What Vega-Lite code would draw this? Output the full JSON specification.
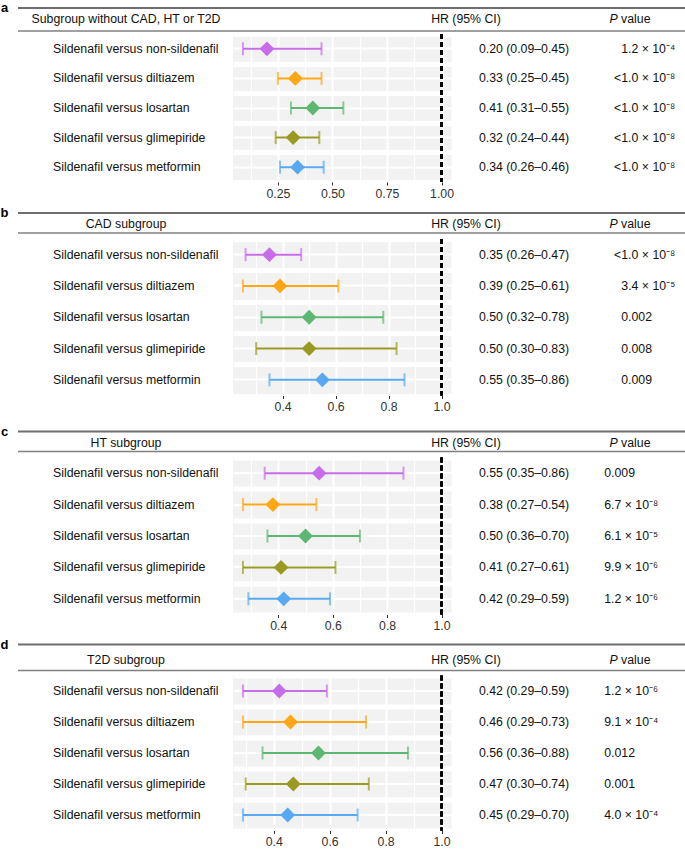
{
  "$schema": "https://vega.github.io/schema/vega-lite/v6.json",
  "padding": {"top": 2, "left": 0, "right": 0, "bottom": 0},
  "spacing": 12.5,
  "datasets": {
    "heads": [
      {"panel": "a", "subgroup": "Subgroup without CAD, HT or T2D"},
      {"panel": "b", "subgroup": "CAD subgroup"},
      {"panel": "c", "subgroup": "HT subgroup"},
      {"panel": "d", "subgroup": "T2D subgroup"}
    ],
    "rows": [
      {"panel": "a", "label": "Sildenafil versus non-sildenafil", "hr": 0.20, "lo": 0.09, "hi": 0.45, "ci": "0.20 (0.09–0.45)", "p": "1.2 × 10⁻⁴"},
      {"panel": "a", "label": "Sildenafil versus diltiazem", "hr": 0.33, "lo": 0.25, "hi": 0.45, "ci": "0.33 (0.25–0.45)", "p": "<1.0 × 10⁻⁸"},
      {"panel": "a", "label": "Sildenafil versus losartan", "hr": 0.41, "lo": 0.31, "hi": 0.55, "ci": "0.41 (0.31–0.55)", "p": "<1.0 × 10⁻⁸"},
      {"panel": "a", "label": "Sildenafil versus glimepiride", "hr": 0.32, "lo": 0.24, "hi": 0.44, "ci": "0.32 (0.24–0.44)", "p": "<1.0 × 10⁻⁸"},
      {"panel": "a", "label": "Sildenafil versus metformin", "hr": 0.34, "lo": 0.26, "hi": 0.46, "ci": "0.34 (0.26–0.46)", "p": "<1.0 × 10⁻⁸"},
      {"panel": "b", "label": "Sildenafil versus non-sildenafil", "hr": 0.35, "lo": 0.26, "hi": 0.47, "ci": "0.35 (0.26–0.47)", "p": "<1.0 × 10⁻⁸"},
      {"panel": "b", "label": "Sildenafil versus diltiazem", "hr": 0.39, "lo": 0.25, "hi": 0.61, "ci": "0.39 (0.25–0.61)", "p": "3.4 × 10⁻⁵"},
      {"panel": "b", "label": "Sildenafil versus losartan", "hr": 0.50, "lo": 0.32, "hi": 0.78, "ci": "0.50 (0.32–0.78)", "p": "0.002"},
      {"panel": "b", "label": "Sildenafil versus glimepiride", "hr": 0.50, "lo": 0.30, "hi": 0.83, "ci": "0.50 (0.30–0.83)", "p": "0.008"},
      {"panel": "b", "label": "Sildenafil versus metformin", "hr": 0.55, "lo": 0.35, "hi": 0.86, "ci": "0.55 (0.35–0.86)", "p": "0.009"},
      {"panel": "c", "label": "Sildenafil versus non-sildenafil", "hr": 0.55, "lo": 0.35, "hi": 0.86, "ci": "0.55 (0.35–0.86)", "p": "0.009"},
      {"panel": "c", "label": "Sildenafil versus diltiazem", "hr": 0.38, "lo": 0.27, "hi": 0.54, "ci": "0.38 (0.27–0.54)", "p": "6.7 × 10⁻⁸"},
      {"panel": "c", "label": "Sildenafil versus losartan", "hr": 0.50, "lo": 0.36, "hi": 0.70, "ci": "0.50 (0.36–0.70)", "p": "6.1 × 10⁻⁵"},
      {"panel": "c", "label": "Sildenafil versus glimepiride", "hr": 0.41, "lo": 0.27, "hi": 0.61, "ci": "0.41 (0.27–0.61)", "p": "9.9 × 10⁻⁶"},
      {"panel": "c", "label": "Sildenafil versus metformin", "hr": 0.42, "lo": 0.29, "hi": 0.59, "ci": "0.42 (0.29–0.59)", "p": "1.2 × 10⁻⁶"},
      {"panel": "d", "label": "Sildenafil versus non-sildenafil", "hr": 0.42, "lo": 0.29, "hi": 0.59, "ci": "0.42 (0.29–0.59)", "p": "1.2 × 10⁻⁶"},
      {"panel": "d", "label": "Sildenafil versus diltiazem", "hr": 0.46, "lo": 0.29, "hi": 0.73, "ci": "0.46 (0.29–0.73)", "p": "9.1 × 10⁻⁴"},
      {"panel": "d", "label": "Sildenafil versus losartan", "hr": 0.56, "lo": 0.36, "hi": 0.88, "ci": "0.56 (0.36–0.88)", "p": "0.012"},
      {"panel": "d", "label": "Sildenafil versus glimepiride", "hr": 0.47, "lo": 0.30, "hi": 0.74, "ci": "0.47 (0.30–0.74)", "p": "0.001"},
      {"panel": "d", "label": "Sildenafil versus metformin", "hr": 0.45, "lo": 0.29, "hi": 0.70, "ci": "0.45 (0.29–0.70)", "p": "4.0 × 10⁻⁴"}
    ]
  },
  "vconcat": [
    {
      "spacing": 7,
      "vconcat": [
        {
          "spacing": 0,
          "vconcat": [
            {
              "data": {"name": "heads"},
              "transform": [{"filter": "datum.panel === 'a'"}],
              "spacing": 8,
              "hconcat": [
                {"width": 7, "height": 23, "mark": {"type": "text", "fontSize": 13, "fontWeight": "bold", "baseline": "middle", "color": "#000000"},
                 "encoding": {"y": {"datum": 1, "type": "quantitative", "scale": {"domain": [0, 1]}, "axis": null}, "text": {"field": "panel"}}},
                {"spacing": 0, "bounds": "flush", "hconcat": [
                  {"width": 216, "height": 23, "layer": [
                    {"mark": {"type": "rule", "color": "#6E6E6E", "strokeWidth": 2}, "encoding": {"y": {"datum": 1, "type": "quantitative", "scale": {"domain": [0, 1]}, "axis": null}}},
                    {"mark": {"type": "rule", "color": "#808080", "strokeWidth": 1.5}, "encoding": {"y": {"datum": 0, "type": "quantitative", "axis": null}}},
                    {"mark": {"type": "text", "baseline": "middle"}, "encoding": {"y": {"datum": 0.52, "type": "quantitative", "axis": null}, "text": {"field": "subgroup"}}}
                  ]},
                  {"width": 124, "height": 23, "layer": [
                    {"mark": {"type": "rule", "color": "#6E6E6E", "strokeWidth": 2}, "encoding": {"y": {"datum": 1, "type": "quantitative", "scale": {"domain": [0, 1]}, "axis": null}}},
                    {"mark": {"type": "rule", "color": "#808080", "strokeWidth": 1.5}, "encoding": {"y": {"datum": 0, "type": "quantitative", "axis": null}}}
                  ]},
                  {"width": 220, "height": 23, "layer": [
                    {"mark": {"type": "rule", "color": "#6E6E6E", "strokeWidth": 2}, "encoding": {"y": {"datum": 1, "type": "quantitative", "scale": {"domain": [0, 1]}, "axis": null}}},
                    {"mark": {"type": "rule", "color": "#808080", "strokeWidth": 1.5}, "encoding": {"y": {"datum": 0, "type": "quantitative", "axis": null}}},
                    {"mark": {"type": "text", "baseline": "middle", "dx": -2}, "encoding": {"y": {"datum": 0.52, "type": "quantitative", "axis": null}, "text": {"value": "HR (95% CI)"}}}
                  ]},
                  {"width": 110, "height": 23, "layer": [
                    {"mark": {"type": "rule", "color": "#6E6E6E", "strokeWidth": 2}, "encoding": {"y": {"datum": 1, "type": "quantitative", "scale": {"domain": [0, 1]}, "axis": null}}},
                    {"mark": {"type": "rule", "color": "#808080", "strokeWidth": 1.5}, "encoding": {"y": {"datum": 0, "type": "quantitative", "axis": null}}},
                    {"mark": {"type": "text", "baseline": "middle", "align": "right", "dx": -15.3, "fontStyle": "italic"}, "encoding": {"y": {"datum": 0.52, "type": "quantitative", "axis": null}, "text": {"value": "P"}}},
                    {"mark": {"type": "text", "baseline": "middle", "align": "left", "dx": -11.9}, "encoding": {"y": {"datum": 0.52, "type": "quantitative", "axis": null}, "text": {"value": "value"}}}
                  ]}
                ]}
              ]
            },
            {
              "data": {"name": "rows"},
              "transform": [{"filter": "datum.panel === 'a'"}],
              "spacing": 0,
              "bounds": "flush",
              "hconcat": [
                {"width": 232, "height": 148, "mark": {"type": "text", "align": "left", "dx": -64, "baseline": "middle"},
                 "encoding": {"y": {"field": "label", "type": "nominal", "sort": null, "scale": {"type": "band", "paddingInner": 0, "paddingOuter": 0}, "axis": null}, "text": {"field": "label"}}},
                {
                  "width": 218.5, "height": 148,
                  "view": {"fill": "#F2F2F2"},
                  "resolve": {"axis": {"x": "independent", "y": "independent"}},
                  "layer": [
                    {"mark": {"type": "rule", "strokeWidth": 2},
                     "encoding": {
                       "x": {"field": "lo", "type": "quantitative", "scale": {"domain": [0.0445, 1.0455], "nice": false, "zero": false},
                             "axis": {"orient": "bottom", "values": [0.25, 0.5, 0.75, 1], "format": ".2f", "title": null, "domain": false, "grid": true, "gridColor": "#FFFFFF", "gridWidth": 2, "tickSize": 3, "tickColor": "#333333", "labelPadding": 2}},
                       "x2": {"field": "hi"},
                       "y": {"field": "label", "type": "nominal", "sort": null, "scale": {"type": "band", "paddingInner": 0, "paddingOuter": 0},
                             "axis": {"orient": "left", "tickBand": "extent", "title": null, "domain": false, "ticks": false, "labels": false, "grid": true, "gridColor": "#FFFFFF", "gridWidth": 5}},
                       "color": {"field": "label", "type": "nominal", "scale": {"domain": ["Sildenafil versus non-sildenafil", "Sildenafil versus diltiazem", "Sildenafil versus losartan", "Sildenafil versus glimepiride", "Sildenafil versus metformin"], "range": ["#C86DEA", "#FFA614", "#5DB772", "#9A9A22", "#58A9F2"]}, "legend": null}
                     }},
                    {"mark": {"type": "tick", "orient": "vertical", "size": 13, "thickness": 2},
                     "encoding": {"x": {"field": "lo", "type": "quantitative", "axis": null}, "y": {"field": "label", "type": "nominal", "sort": null, "axis": null},
                       "color": {"field": "label", "type": "nominal", "legend": null}}},
                    {"mark": {"type": "tick", "orient": "vertical", "size": 13, "thickness": 2},
                     "encoding": {"x": {"field": "hi", "type": "quantitative", "axis": null}, "y": {"field": "label", "type": "nominal", "sort": null, "axis": null},
                       "color": {"field": "label", "type": "nominal", "legend": null}}},
                    {"mark": {"type": "rule", "color": "#000000", "strokeWidth": 2.2, "strokeDash": [5, 3]},
                     "encoding": {"x": {"datum": 1, "type": "quantitative", "axis": null}}},
                    {"mark": {"type": "point", "shape": "diamond", "filled": true, "size": 220, "opacity": 1},
                     "encoding": {
                       "x": {"field": "hr", "type": "quantitative", "axis": {"orient": "bottom", "values": [0.125, 0.375, 0.625, 0.875], "title": null, "domain": false, "ticks": false, "labels": false, "grid": true, "gridColor": "#FFFFFF", "gridWidth": 1.2}},
                       "y": {"field": "label", "type": "nominal", "sort": null, "axis": {"orient": "left", "title": null, "domain": false, "ticks": false, "labels": false, "grid": true, "gridColor": "#FFFFFF", "gridWidth": 2}},
                       "color": {"field": "label", "type": "nominal", "legend": null}
                     }}
                  ]
                },
                {"width": 144, "height": 148, "mark": {"type": "text", "baseline": "middle"},
                 "encoding": {"y": {"field": "label", "type": "nominal", "sort": null, "scale": {"type": "band", "paddingInner": 0, "paddingOuter": 0}, "axis": null}, "text": {"field": "ci"}}},
                {"width": 90.5, "height": 148, "mark": {"type": "text", "baseline": "middle", "align": "right", "dx": 34},
                 "encoding": {"y": {"field": "label", "type": "nominal", "sort": null, "scale": {"type": "band", "paddingInner": 0, "paddingOuter": 0}, "axis": null}, "text": {"field": "p"}}}
              ]
            }
          ]
        },
        {
          "spacing": 3,
          "vconcat": [
            {
              "data": {"name": "heads"},
              "transform": [{"filter": "datum.panel === 'b'"}],
              "spacing": 8,
              "hconcat": [
                {"width": 7, "height": 20, "mark": {"type": "text", "fontSize": 13, "fontWeight": "bold", "baseline": "middle", "color": "#000000"},
                 "encoding": {"y": {"datum": 1, "type": "quantitative", "scale": {"domain": [0, 1]}, "axis": null}, "text": {"field": "panel"}}},
                {"spacing": 0, "bounds": "flush", "hconcat": [
                  {"width": 216, "height": 20, "layer": [
                    {"mark": {"type": "rule", "color": "#6E6E6E", "strokeWidth": 2}, "encoding": {"y": {"datum": 1, "type": "quantitative", "scale": {"domain": [0, 1]}, "axis": null}}},
                    {"mark": {"type": "rule", "color": "#808080", "strokeWidth": 1.5}, "encoding": {"y": {"datum": 0, "type": "quantitative", "axis": null}}},
                    {"mark": {"type": "text", "baseline": "middle"}, "encoding": {"y": {"datum": 0.45, "type": "quantitative", "axis": null}, "text": {"field": "subgroup"}}}
                  ]},
                  {"width": 124, "height": 20, "layer": [
                    {"mark": {"type": "rule", "color": "#6E6E6E", "strokeWidth": 2}, "encoding": {"y": {"datum": 1, "type": "quantitative", "scale": {"domain": [0, 1]}, "axis": null}}},
                    {"mark": {"type": "rule", "color": "#808080", "strokeWidth": 1.5}, "encoding": {"y": {"datum": 0, "type": "quantitative", "axis": null}}}
                  ]},
                  {"width": 220, "height": 20, "layer": [
                    {"mark": {"type": "rule", "color": "#6E6E6E", "strokeWidth": 2}, "encoding": {"y": {"datum": 1, "type": "quantitative", "scale": {"domain": [0, 1]}, "axis": null}}},
                    {"mark": {"type": "rule", "color": "#808080", "strokeWidth": 1.5}, "encoding": {"y": {"datum": 0, "type": "quantitative", "axis": null}}},
                    {"mark": {"type": "text", "baseline": "middle", "dx": -2}, "encoding": {"y": {"datum": 0.45, "type": "quantitative", "axis": null}, "text": {"value": "HR (95% CI)"}}}
                  ]},
                  {"width": 110, "height": 20, "layer": [
                    {"mark": {"type": "rule", "color": "#6E6E6E", "strokeWidth": 2}, "encoding": {"y": {"datum": 1, "type": "quantitative", "scale": {"domain": [0, 1]}, "axis": null}}},
                    {"mark": {"type": "rule", "color": "#808080", "strokeWidth": 1.5}, "encoding": {"y": {"datum": 0, "type": "quantitative", "axis": null}}},
                    {"mark": {"type": "text", "baseline": "middle", "align": "right", "dx": -15.3, "fontStyle": "italic"}, "encoding": {"y": {"datum": 0.45, "type": "quantitative", "axis": null}, "text": {"value": "P"}}},
                    {"mark": {"type": "text", "baseline": "middle", "align": "left", "dx": -11.9}, "encoding": {"y": {"datum": 0.45, "type": "quantitative", "axis": null}, "text": {"value": "value"}}}
                  ]}
                ]}
              ]
            },
            {
              "data": {"name": "rows"},
              "transform": [{"filter": "datum.panel === 'b'"}],
              "spacing": 0,
              "bounds": "flush",
              "hconcat": [
                {"width": 232, "height": 156.5, "mark": {"type": "text", "align": "left", "dx": -64, "baseline": "middle"},
                 "encoding": {"y": {"field": "label", "type": "nominal", "sort": null, "scale": {"type": "band", "paddingInner": 0, "paddingOuter": 0}, "axis": null}, "text": {"field": "label"}}},
                {
                  "width": 218.5, "height": 156.5,
                  "view": {"fill": "#F2F2F2"},
                  "resolve": {"axis": {"x": "independent", "y": "independent"}},
                  "layer": [
                    {"mark": {"type": "rule", "strokeWidth": 2},
                     "encoding": {
                       "x": {"field": "lo", "type": "quantitative", "scale": {"domain": [0.2125, 1.0375], "nice": false, "zero": false},
                             "axis": {"orient": "bottom", "values": [0.4, 0.6, 0.8, 1], "format": ".1f", "title": null, "domain": false, "grid": true, "gridColor": "#FFFFFF", "gridWidth": 2, "tickSize": 3, "tickColor": "#333333", "labelPadding": 2}},
                       "x2": {"field": "hi"},
                       "y": {"field": "label", "type": "nominal", "sort": null, "scale": {"type": "band", "paddingInner": 0, "paddingOuter": 0},
                             "axis": {"orient": "left", "tickBand": "extent", "title": null, "domain": false, "ticks": false, "labels": false, "grid": true, "gridColor": "#FFFFFF", "gridWidth": 5}},
                       "color": {"field": "label", "type": "nominal", "scale": {"domain": ["Sildenafil versus non-sildenafil", "Sildenafil versus diltiazem", "Sildenafil versus losartan", "Sildenafil versus glimepiride", "Sildenafil versus metformin"], "range": ["#C86DEA", "#FFA614", "#5DB772", "#9A9A22", "#58A9F2"]}, "legend": null}
                     }},
                    {"mark": {"type": "tick", "orient": "vertical", "size": 13, "thickness": 2},
                     "encoding": {"x": {"field": "lo", "type": "quantitative", "axis": null}, "y": {"field": "label", "type": "nominal", "sort": null, "axis": null},
                       "color": {"field": "label", "type": "nominal", "legend": null}}},
                    {"mark": {"type": "tick", "orient": "vertical", "size": 13, "thickness": 2},
                     "encoding": {"x": {"field": "hi", "type": "quantitative", "axis": null}, "y": {"field": "label", "type": "nominal", "sort": null, "axis": null},
                       "color": {"field": "label", "type": "nominal", "legend": null}}},
                    {"mark": {"type": "rule", "color": "#000000", "strokeWidth": 2.2, "strokeDash": [5, 3]},
                     "encoding": {"x": {"datum": 1, "type": "quantitative", "axis": null}}},
                    {"mark": {"type": "point", "shape": "diamond", "filled": true, "size": 220, "opacity": 1},
                     "encoding": {
                       "x": {"field": "hr", "type": "quantitative", "axis": {"orient": "bottom", "values": [0.3, 0.5, 0.7, 0.9], "title": null, "domain": false, "ticks": false, "labels": false, "grid": true, "gridColor": "#FFFFFF", "gridWidth": 1.2}},
                       "y": {"field": "label", "type": "nominal", "sort": null, "axis": {"orient": "left", "title": null, "domain": false, "ticks": false, "labels": false, "grid": true, "gridColor": "#FFFFFF", "gridWidth": 2}},
                       "color": {"field": "label", "type": "nominal", "legend": null}
                     }}
                  ]
                },
                {"width": 144, "height": 156.5, "mark": {"type": "text", "baseline": "middle"},
                 "encoding": {"y": {"field": "label", "type": "nominal", "sort": null, "scale": {"type": "band", "paddingInner": 0, "paddingOuter": 0}, "axis": null}, "text": {"field": "ci"}}},
                {"width": 90.5, "height": 156.5, "layer": [
                  {"mark": {"type": "text", "baseline": "middle", "align": "right", "dx": 34},
                   "encoding": {"y": {"field": "label", "type": "nominal", "sort": null, "scale": {"type": "band", "paddingInner": 0, "paddingOuter": 0}, "axis": null}, "text": {"condition": {"test": "indexof(datum.p, '×') >= 0", "field": "p"}, "value": ""}}},
                  {"mark": {"type": "text", "baseline": "middle", "align": "left", "dx": -20},
                   "encoding": {"y": {"field": "label", "type": "nominal", "sort": null, "axis": null}, "text": {"condition": {"test": "indexof(datum.p, '×') < 0", "field": "p"}, "value": ""}}}
                ]}
              ]
            }
          ]
        }
      ]
    },
    {
      "spacing": 6,
      "vconcat": [
        {
          "spacing": 3,
          "vconcat": [
            {
              "data": {"name": "heads"},
              "transform": [{"filter": "datum.panel === 'c'"}],
              "spacing": 8,
              "hconcat": [
                {"width": 7, "height": 20, "mark": {"type": "text", "fontSize": 13, "fontWeight": "bold", "baseline": "middle", "color": "#000000"},
                 "encoding": {"y": {"datum": 1, "type": "quantitative", "scale": {"domain": [0, 1]}, "axis": null}, "text": {"field": "panel"}}},
                {"spacing": 0, "bounds": "flush", "hconcat": [
                  {"width": 216, "height": 20, "layer": [
                    {"mark": {"type": "rule", "color": "#6E6E6E", "strokeWidth": 2}, "encoding": {"y": {"datum": 1, "type": "quantitative", "scale": {"domain": [0, 1]}, "axis": null}}},
                    {"mark": {"type": "rule", "color": "#808080", "strokeWidth": 1.5}, "encoding": {"y": {"datum": 0, "type": "quantitative", "axis": null}}},
                    {"mark": {"type": "text", "baseline": "middle"}, "encoding": {"y": {"datum": 0.45, "type": "quantitative", "axis": null}, "text": {"field": "subgroup"}}}
                  ]},
                  {"width": 124, "height": 20, "layer": [
                    {"mark": {"type": "rule", "color": "#6E6E6E", "strokeWidth": 2}, "encoding": {"y": {"datum": 1, "type": "quantitative", "scale": {"domain": [0, 1]}, "axis": null}}},
                    {"mark": {"type": "rule", "color": "#808080", "strokeWidth": 1.5}, "encoding": {"y": {"datum": 0, "type": "quantitative", "axis": null}}}
                  ]},
                  {"width": 220, "height": 20, "layer": [
                    {"mark": {"type": "rule", "color": "#6E6E6E", "strokeWidth": 2}, "encoding": {"y": {"datum": 1, "type": "quantitative", "scale": {"domain": [0, 1]}, "axis": null}}},
                    {"mark": {"type": "rule", "color": "#808080", "strokeWidth": 1.5}, "encoding": {"y": {"datum": 0, "type": "quantitative", "axis": null}}},
                    {"mark": {"type": "text", "baseline": "middle", "dx": -2}, "encoding": {"y": {"datum": 0.45, "type": "quantitative", "axis": null}, "text": {"value": "HR (95% CI)"}}}
                  ]},
                  {"width": 110, "height": 20, "layer": [
                    {"mark": {"type": "rule", "color": "#6E6E6E", "strokeWidth": 2}, "encoding": {"y": {"datum": 1, "type": "quantitative", "scale": {"domain": [0, 1]}, "axis": null}}},
                    {"mark": {"type": "rule", "color": "#808080", "strokeWidth": 1.5}, "encoding": {"y": {"datum": 0, "type": "quantitative", "axis": null}}},
                    {"mark": {"type": "text", "baseline": "middle", "align": "right", "dx": -15.3, "fontStyle": "italic"}, "encoding": {"y": {"datum": 0.45, "type": "quantitative", "axis": null}, "text": {"value": "P"}}},
                    {"mark": {"type": "text", "baseline": "middle", "align": "left", "dx": -11.9}, "encoding": {"y": {"datum": 0.45, "type": "quantitative", "axis": null}, "text": {"value": "value"}}}
                  ]}
                ]}
              ]
            },
            {
              "data": {"name": "rows"},
              "transform": [{"filter": "datum.panel === 'c'"}],
              "spacing": 0,
              "bounds": "flush",
              "hconcat": [
                {"width": 232, "height": 157, "mark": {"type": "text", "align": "left", "dx": -64, "baseline": "middle"},
                 "encoding": {"y": {"field": "label", "type": "nominal", "sort": null, "scale": {"type": "band", "paddingInner": 0, "paddingOuter": 0}, "axis": null}, "text": {"field": "label"}}},
                {
                  "width": 218.5, "height": 157,
                  "view": {"fill": "#F2F2F2"},
                  "resolve": {"axis": {"x": "independent", "y": "independent"}},
                  "layer": [
                    {"mark": {"type": "rule", "strokeWidth": 2},
                     "encoding": {
                       "x": {"field": "lo", "type": "quantitative", "scale": {"domain": [0.2335, 1.0365], "nice": false, "zero": false},
                             "axis": {"orient": "bottom", "values": [0.4, 0.6, 0.8, 1], "format": ".1f", "title": null, "domain": false, "grid": true, "gridColor": "#FFFFFF", "gridWidth": 2, "tickSize": 3, "tickColor": "#333333", "labelPadding": 2}},
                       "x2": {"field": "hi"},
                       "y": {"field": "label", "type": "nominal", "sort": null, "scale": {"type": "band", "paddingInner": 0, "paddingOuter": 0},
                             "axis": {"orient": "left", "tickBand": "extent", "title": null, "domain": false, "ticks": false, "labels": false, "grid": true, "gridColor": "#FFFFFF", "gridWidth": 5}},
                       "color": {"field": "label", "type": "nominal", "scale": {"domain": ["Sildenafil versus non-sildenafil", "Sildenafil versus diltiazem", "Sildenafil versus losartan", "Sildenafil versus glimepiride", "Sildenafil versus metformin"], "range": ["#C86DEA", "#FFA614", "#5DB772", "#9A9A22", "#58A9F2"]}, "legend": null}
                     }},
                    {"mark": {"type": "tick", "orient": "vertical", "size": 13, "thickness": 2},
                     "encoding": {"x": {"field": "lo", "type": "quantitative", "axis": null}, "y": {"field": "label", "type": "nominal", "sort": null, "axis": null},
                       "color": {"field": "label", "type": "nominal", "legend": null}}},
                    {"mark": {"type": "tick", "orient": "vertical", "size": 13, "thickness": 2},
                     "encoding": {"x": {"field": "hi", "type": "quantitative", "axis": null}, "y": {"field": "label", "type": "nominal", "sort": null, "axis": null},
                       "color": {"field": "label", "type": "nominal", "legend": null}}},
                    {"mark": {"type": "rule", "color": "#000000", "strokeWidth": 2.2, "strokeDash": [5, 3]},
                     "encoding": {"x": {"datum": 1, "type": "quantitative", "axis": null}}},
                    {"mark": {"type": "point", "shape": "diamond", "filled": true, "size": 220, "opacity": 1},
                     "encoding": {
                       "x": {"field": "hr", "type": "quantitative", "axis": {"orient": "bottom", "values": [0.3, 0.5, 0.7, 0.9], "title": null, "domain": false, "ticks": false, "labels": false, "grid": true, "gridColor": "#FFFFFF", "gridWidth": 1.2}},
                       "y": {"field": "label", "type": "nominal", "sort": null, "axis": {"orient": "left", "title": null, "domain": false, "ticks": false, "labels": false, "grid": true, "gridColor": "#FFFFFF", "gridWidth": 2}},
                       "color": {"field": "label", "type": "nominal", "legend": null}
                     }}
                  ]
                },
                {"width": 144, "height": 157, "mark": {"type": "text", "baseline": "middle"},
                 "encoding": {"y": {"field": "label", "type": "nominal", "sort": null, "scale": {"type": "band", "paddingInner": 0, "paddingOuter": 0}, "axis": null}, "text": {"field": "ci"}}},
                {"width": 90.5, "height": 157, "mark": {"type": "text", "baseline": "middle", "align": "left", "dx": -37},
                 "encoding": {"y": {"field": "label", "type": "nominal", "sort": null, "scale": {"type": "band", "paddingInner": 0, "paddingOuter": 0}, "axis": null}, "text": {"field": "p"}}}
              ]
            }
          ]
        },
        {
          "spacing": 2,
          "vconcat": [
            {
              "data": {"name": "heads"},
              "transform": [{"filter": "datum.panel === 'd'"}],
              "spacing": 8,
              "hconcat": [
                {"width": 7, "height": 26, "mark": {"type": "text", "fontSize": 13, "fontWeight": "bold", "baseline": "middle", "color": "#000000"},
                 "encoding": {"y": {"datum": 1, "type": "quantitative", "scale": {"domain": [0, 1]}, "axis": null}, "text": {"field": "panel"}}},
                {"spacing": 0, "bounds": "flush", "hconcat": [
                  {"width": 216, "height": 26, "layer": [
                    {"mark": {"type": "rule", "color": "#6E6E6E", "strokeWidth": 2}, "encoding": {"y": {"datum": 1, "type": "quantitative", "scale": {"domain": [0, 1]}, "axis": null}}},
                    {"mark": {"type": "rule", "color": "#808080", "strokeWidth": 1.5}, "encoding": {"y": {"datum": 0, "type": "quantitative", "axis": null}}},
                    {"mark": {"type": "text", "baseline": "middle"}, "encoding": {"y": {"datum": 0.4, "type": "quantitative", "axis": null}, "text": {"field": "subgroup"}}}
                  ]},
                  {"width": 124, "height": 26, "layer": [
                    {"mark": {"type": "rule", "color": "#6E6E6E", "strokeWidth": 2}, "encoding": {"y": {"datum": 1, "type": "quantitative", "scale": {"domain": [0, 1]}, "axis": null}}},
                    {"mark": {"type": "rule", "color": "#808080", "strokeWidth": 1.5}, "encoding": {"y": {"datum": 0, "type": "quantitative", "axis": null}}}
                  ]},
                  {"width": 220, "height": 26, "layer": [
                    {"mark": {"type": "rule", "color": "#6E6E6E", "strokeWidth": 2}, "encoding": {"y": {"datum": 1, "type": "quantitative", "scale": {"domain": [0, 1]}, "axis": null}}},
                    {"mark": {"type": "rule", "color": "#808080", "strokeWidth": 1.5}, "encoding": {"y": {"datum": 0, "type": "quantitative", "axis": null}}},
                    {"mark": {"type": "text", "baseline": "middle", "dx": -2}, "encoding": {"y": {"datum": 0.4, "type": "quantitative", "axis": null}, "text": {"value": "HR (95% CI)"}}}
                  ]},
                  {"width": 110, "height": 26, "layer": [
                    {"mark": {"type": "rule", "color": "#6E6E6E", "strokeWidth": 2}, "encoding": {"y": {"datum": 1, "type": "quantitative", "scale": {"domain": [0, 1]}, "axis": null}}},
                    {"mark": {"type": "rule", "color": "#808080", "strokeWidth": 1.5}, "encoding": {"y": {"datum": 0, "type": "quantitative", "axis": null}}},
                    {"mark": {"type": "text", "baseline": "middle", "align": "right", "dx": -15.3, "fontStyle": "italic"}, "encoding": {"y": {"datum": 0.4, "type": "quantitative", "axis": null}, "text": {"value": "P"}}},
                    {"mark": {"type": "text", "baseline": "middle", "align": "left", "dx": -11.9}, "encoding": {"y": {"datum": 0.4, "type": "quantitative", "axis": null}, "text": {"value": "value"}}}
                  ]}
                ]}
              ]
            },
            {
              "data": {"name": "rows"},
              "transform": [{"filter": "datum.panel === 'd'"}],
              "spacing": 0,
              "bounds": "flush",
              "hconcat": [
                {"width": 232, "height": 155, "mark": {"type": "text", "align": "left", "dx": -64, "baseline": "middle"},
                 "encoding": {"y": {"field": "label", "type": "nominal", "sort": null, "scale": {"type": "band", "paddingInner": 0, "paddingOuter": 0}, "axis": null}, "text": {"field": "label"}}},
                {
                  "width": 218.5, "height": 155,
                  "view": {"fill": "#F2F2F2"},
                  "resolve": {"axis": {"x": "independent", "y": "independent"}},
                  "layer": [
                    {"mark": {"type": "rule", "strokeWidth": 2},
                     "encoding": {
                       "x": {"field": "lo", "type": "quantitative", "scale": {"domain": [0.2545, 1.0355], "nice": false, "zero": false},
                             "axis": {"orient": "bottom", "values": [0.4, 0.6, 0.8, 1], "format": ".1f", "title": null, "domain": false, "grid": true, "gridColor": "#FFFFFF", "gridWidth": 2, "tickSize": 3, "tickColor": "#333333", "labelPadding": 2}},
                       "x2": {"field": "hi"},
                       "y": {"field": "label", "type": "nominal", "sort": null, "scale": {"type": "band", "paddingInner": 0, "paddingOuter": 0},
                             "axis": {"orient": "left", "tickBand": "extent", "title": null, "domain": false, "ticks": false, "labels": false, "grid": true, "gridColor": "#FFFFFF", "gridWidth": 5}},
                       "color": {"field": "label", "type": "nominal", "scale": {"domain": ["Sildenafil versus non-sildenafil", "Sildenafil versus diltiazem", "Sildenafil versus losartan", "Sildenafil versus glimepiride", "Sildenafil versus metformin"], "range": ["#C86DEA", "#FFA614", "#5DB772", "#9A9A22", "#58A9F2"]}, "legend": null}
                     }},
                    {"mark": {"type": "tick", "orient": "vertical", "size": 13, "thickness": 2},
                     "encoding": {"x": {"field": "lo", "type": "quantitative", "axis": null}, "y": {"field": "label", "type": "nominal", "sort": null, "axis": null},
                       "color": {"field": "label", "type": "nominal", "legend": null}}},
                    {"mark": {"type": "tick", "orient": "vertical", "size": 13, "thickness": 2},
                     "encoding": {"x": {"field": "hi", "type": "quantitative", "axis": null}, "y": {"field": "label", "type": "nominal", "sort": null, "axis": null},
                       "color": {"field": "label", "type": "nominal", "legend": null}}},
                    {"mark": {"type": "rule", "color": "#000000", "strokeWidth": 2.2, "strokeDash": [5, 3]},
                     "encoding": {"x": {"datum": 1, "type": "quantitative", "axis": null}}},
                    {"mark": {"type": "point", "shape": "diamond", "filled": true, "size": 220, "opacity": 1},
                     "encoding": {
                       "x": {"field": "hr", "type": "quantitative", "axis": {"orient": "bottom", "values": [0.3, 0.5, 0.7, 0.9], "title": null, "domain": false, "ticks": false, "labels": false, "grid": true, "gridColor": "#FFFFFF", "gridWidth": 1.2}},
                       "y": {"field": "label", "type": "nominal", "sort": null, "axis": {"orient": "left", "title": null, "domain": false, "ticks": false, "labels": false, "grid": true, "gridColor": "#FFFFFF", "gridWidth": 2}},
                       "color": {"field": "label", "type": "nominal", "legend": null}
                     }}
                  ]
                },
                {"width": 144, "height": 155, "mark": {"type": "text", "baseline": "middle"},
                 "encoding": {"y": {"field": "label", "type": "nominal", "sort": null, "scale": {"type": "band", "paddingInner": 0, "paddingOuter": 0}, "axis": null}, "text": {"field": "ci"}}},
                {"width": 90.5, "height": 155, "mark": {"type": "text", "baseline": "middle", "align": "left", "dx": -37},
                 "encoding": {"y": {"field": "label", "type": "nominal", "sort": null, "scale": {"type": "band", "paddingInner": 0, "paddingOuter": 0}, "axis": null}, "text": {"field": "p"}}}
              ]
            }
          ]
        }
      ]
    }
  ],
  "config": {
    "font": "Liberation Sans",
    "view": {"stroke": null},
    "text": {"font": "Liberation Sans", "fontSize": 12.3, "color": "#111111"},
    "axis": {"labelFont": "Liberation Sans", "labelFontSize": 12.3, "labelColor": "#333333"}
  }
}
